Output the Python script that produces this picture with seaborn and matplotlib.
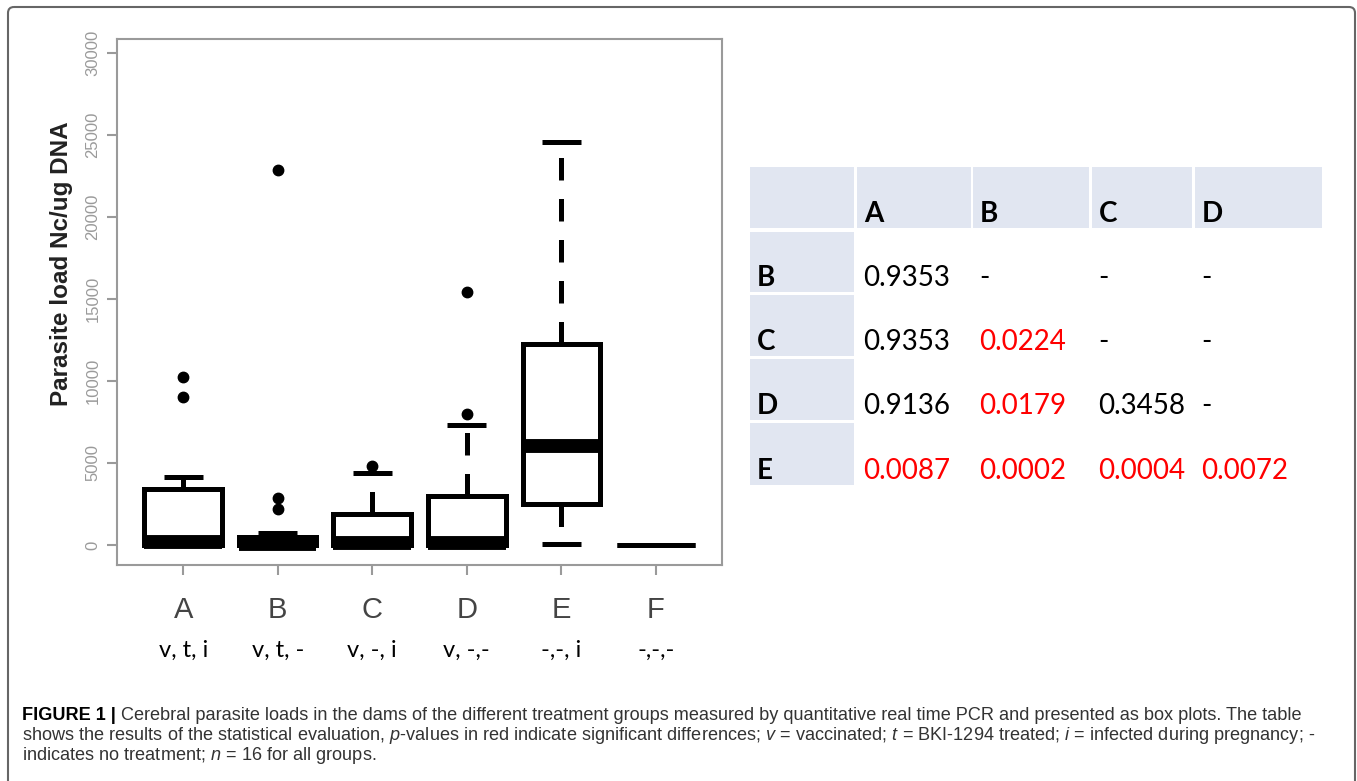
import numpy as np
import pandas as pd
import matplotlib
matplotlib.use('Agg')
import matplotlib.pyplot as plt
import matplotlib.transforms as mtransforms
from matplotlib.patches import Rectangle, FancyBboxPatch
import seaborn as sns

# groups and treatment codes
groups = ['A', 'B', 'C', 'D', 'E', 'F']
treatments = ['v, t, i', 'v, t, -', 'v, -, i', 'v, -,-', '-,-, i', '-,-,-']

# cerebral parasite loads (Nc/ug DNA), n = 16 per group
load_A = [0, 0, 0, 0, 20, 50, 100, 140, 180, 800, 2500, 3300, 3700, 4150, 9030, 10250]
load_B = [0, 0, 0, 0, 10, 20, 40, 60, 100, 250, 380, 420, 750, 2200, 2870, 22870]
load_C = [0, 0, 0, 0, 20, 50, 90, 130, 170, 400, 900, 1800, 2200, 3000, 4390, 4800]
load_D = [0, 0, 0, 0, 20, 50, 90, 130, 170, 600, 2000, 2800, 3560, 7320, 7990, 15400]
load_E = [60, 400, 1200, 2300, 2570, 4200, 5200, 5800, 6280, 7500, 9500, 11500, 14540, 17000, 21000, 24580]
load_F = [0] * 16

y_ticks = [0, 5000, 10000, 15000, 20000, 25000, 30000]

# p-value table
cmp_cols = ['A', 'B', 'C', 'D']
cmp_rows = ['B', 'C', 'D', 'E']
p_B = [0.9353, None, None, None]
p_C = [0.9353, 0.0224, None, None]
p_D = [0.9136, 0.0179, 0.3458, None]
p_E = [0.0087, 0.0002, 0.0004, 0.0072]

caption_1 = ('Cerebral parasite loads in the dams of the different treatment groups measured by '
             'quantitative real time PCR and presented as box plots. The table')
caption_2 = (r'shows the results of the statistical evaluation, $p$-values in red indicate significant '
             r'differences; $v$ = vaccinated; $t$ = BKI-1294 treated; $i$ = infected during pregnancy; -')
caption_3 = r'indicates no treatment; $n$ = 16 for all groups.'

sns.set_theme(style='white')
plt.rcParams['font.family'] = ['Liberation Sans', 'DejaVu Sans']
plt.rcParams['mathtext.fontset'] = 'custom'
plt.rcParams['mathtext.rm'] = 'Liberation Sans'
plt.rcParams['mathtext.it'] = 'Liberation Sans:italic'
plt.rcParams['mathtext.bf'] = 'Liberation Sans:bold'

W, H = 1357, 781
fig = plt.figure(figsize=(W / 100, H / 100), dpi=100)

df = pd.DataFrame({
    'group': np.repeat(groups, 16),
    'load': np.concatenate([load_A, load_B, load_C, load_D, load_E, load_F]),
})

ax = fig.add_axes([117 / W, 1 - 565 / H, (722 - 117) / W, (565 - 39) / H])
sns.boxplot(data=df, x='group', y='load', order=groups, ax=ax,
            color='white', linecolor='black', linewidth=3.6, width=0.82,
            fliersize=7.5, whis=1.5,
            flierprops=dict(marker='o', markerfacecolor='black', markeredgecolor='black'),
            whiskerprops=dict(linestyle=(0, (4.5, 3.7)), dash_capstyle='butt'),
            medianprops=dict(linewidth=10, solid_capstyle='butt'),
            capprops=dict(solid_capstyle='butt'))
# group F has no spread: R draws it as a plain line
ax.containers[0].medians[5].set_linewidth(3.6)

ax.set_xlim(-0.7, 5.7)
ax.set_ylim(-1220, 30850)
ax.set_yticks(y_ticks)
ax.set_yticklabels([str(t) for t in y_ticks], rotation=90, va='center', color='#9a9a9a', fontsize=12)
ax.set_xticks(range(len(groups)))
ax.set_xticklabels(groups, fontsize=21, color='#444444')
ax.tick_params(axis='both', bottom=True, left=True, direction='out', length=7,
               width=1.5, color='#9a9a9a')
ax.tick_params(axis='x', pad=15)
ax.tick_params(axis='y', pad=5)
for s in ax.spines.values():
    s.set_visible(True)
    s.set_color('#9a9a9a')
    s.set_linewidth(1.5)
ax.set_xlabel('')
ax.set_ylabel('Parasite load Nc/ug DNA', fontsize=17.5, fontweight='bold', color='#222222')
ax.yaxis.set_label_coords(-0.072, 0.572)

trans = mtransforms.blended_transform_factory(ax.transData, ax.transAxes)
for i, t in enumerate(treatments):
    ax.text(i, -0.175, t, transform=trans, ha='center', va='baseline',
            fontsize=17, family=['Lato', 'DejaVu Sans'], color='black')

# overlay in pixel coordinates for the table, frame and caption
ov = fig.add_axes([0, 0, 1, 1], zorder=-1)
ov.set_xlim(0, W)
ov.set_ylim(H, 0)
ov.axis('off')

ov.add_patch(FancyBboxPatch((8, 7), 1347, 800, boxstyle='round,pad=0,rounding_size=6',
                            fill=False, edgecolor='#666666', linewidth=1.5, clip_on=False))

col_edges = [(750, 854), (857, 971), (973, 1089), (1092, 1192), (1195, 1322)]
row_edges = [(167, 228), (232, 292), (295, 356), (359, 420), (423, 485)]
shade = '#e1e6f1'
tab_font = ['Lato', 'DejaVu Sans']

for c, (x0, x1) in enumerate(col_edges):
    ov.add_patch(Rectangle((x0, row_edges[0][0]), x1 - x0, row_edges[0][1] - row_edges[0][0],
                           facecolor=shade, edgecolor='none'))
for r, (y0, y1) in enumerate(row_edges[1:]):
    ov.add_patch(Rectangle((col_edges[0][0], y0), col_edges[0][1] - col_edges[0][0], y1 - y0,
                           facecolor=shade, edgecolor='none'))

for c, name in enumerate(cmp_cols):
    ov.text(col_edges[c + 1][0] + 7, row_edges[0][1] - 6, name, fontsize=20,
            fontweight='bold', family=tab_font, va='baseline', ha='left', color='black')

for r, (name, vals) in enumerate(zip(cmp_rows, [p_B, p_C, p_D, p_E])):
    base = row_edges[r + 1][1] - 6
    ov.text(col_edges[0][0] + 7, base, name, fontsize=20, fontweight='bold',
            family=tab_font, va='baseline', ha='left', color='black')
    for c, p in enumerate(vals):
        if p is None:
            label, col = '-', 'black'
        else:
            label, col = f'{p:.4f}', ('#ff0000' if p < 0.05 else 'black')
        ov.text(col_edges[c + 1][0] + 6, base, label, fontsize=20, family=tab_font,
                va='baseline', ha='left', color=col)

# caption
renderer = fig.canvas.get_renderer()
cap_size = 12
head = ov.text(22, 720, 'FIGURE 1 |', fontsize=cap_size, fontweight='bold',
               color='black', va='baseline', ha='left')
bb = head.get_window_extent(renderer)
line1 = ov.text(bb.x1 + 5, 720, caption_1, fontsize=cap_size, color='#333333',
                va='baseline', ha='left')
bb1 = line1.get_window_extent(renderer)
scale = (1307 - 22) / (bb1.x1 - bb.x0)
cap_size = cap_size * scale
head.set_fontsize(cap_size)
bb = head.get_window_extent(renderer)
line1.set_fontsize(cap_size)
line1.set_x(bb.x1 + 0.3 * cap_size * 100 / 72)
ov.text(22, 740, caption_2, fontsize=cap_size, color='#333333', va='baseline', ha='left')
ov.text(22, 760, caption_3, fontsize=cap_size, color='#333333', va='baseline', ha='left')

fig.savefig('out.png', dpi=100)
